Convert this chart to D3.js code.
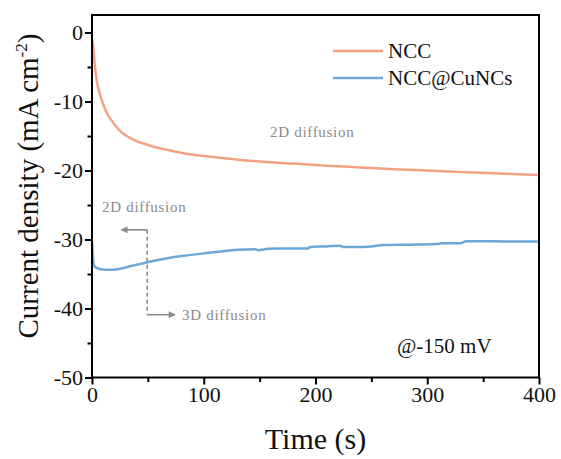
<!DOCTYPE html>
<html>
<head>
<meta charset="utf-8">
<script src="https://cdn.jsdelivr.net/npm/d3@7"></script>
<style>
  html, body { margin: 0; padding: 0; background: #fff; }
  svg text { font-family: "Liberation Serif", "Times New Roman", serif; }
</style>
</head>
<body>
<svg id="chart" width="561" height="459"></svg>
<script>
// Chronoamperometry at -150 mV: current density vs. time
const seriesNames = ["NCC", "NCC@CuNCs"];
const seriesColors = ["#f2a283", "#6ea8d6"];

const nccTime = [0, 0.5, 0.9, 1.5, 2.4, 3.5, 5.4, 7.5, 9.8, 13, 17.3, 21, 26, 33, 41, 48, 56, 70, 86, 100, 116, 135, 150, 180, 210, 240, 270, 300, 329, 360, 399];
const nccValue = [-1.0, -1.3, -1.6, -2.8, -4.5, -6.2, -7.9, -9.2, -10.3, -11.6, -12.7, -13.5, -14.4, -15.2, -15.8, -16.2, -16.6, -17.1, -17.6, -17.9, -18.2, -18.5, -18.7, -19.0, -19.3, -19.55, -19.8, -20.0, -20.2, -20.4, -20.65];

const cuTime = [0, 0.4, 0.9, 1.5, 2.4, 4, 8.3, 12, 17.3, 21, 26, 35, 47, 58, 71, 85, 101, 115, 130, 146, 148.6, 151, 157.5, 168, 193.6, 195, 210, 222, 225, 240, 250, 260.7, 285, 308, 313, 329, 335, 360, 380, 399];
const cuValue = [-30.2, -31.5, -32.8, -33.6, -33.9, -34.1, -34.3, -34.4, -34.4, -34.35, -34.2, -33.85, -33.4, -33.0, -32.6, -32.3, -32.0, -31.75, -31.5, -31.4, -31.55, -31.5, -31.35, -31.3, -31.3, -31.1, -31.0, -30.9, -31.1, -31.1, -31.0, -30.8, -30.75, -30.65, -30.55, -30.55, -30.25, -30.25, -30.3, -30.3];

const xTicks = [0, 100, 200, 300, 400];
const xMinorTicks = [50, 150, 250, 350];
const yTicks = [0, -10, -20, -30, -40, -50];
const yMinorTicks = [-5, -15, -25, -35, -45];

const serif = "Liberation Serif, Times New Roman, serif";
const plot = { left: 92, right: 539, top: 15, bottom: 377.5 };

const svg = d3.select("#chart");

const x = d3.scaleLinear().domain([0, 400]).range([plot.left, plot.right]);
const y = d3.scaleLinear().domain([-50, 2.54]).range([plot.bottom, plot.top]);

// Plain hyphen for negative tick labels
const tickFmt = d => String(d);

// Curves
const line = d3.line()
  .x(d => x(d[0]))
  .y(d => y(d[1]))
  .curve(d3.curveMonotoneX);

const seriesData = [
  d3.zip(nccTime, nccValue),
  d3.zip(cuTime, cuValue)
];

svg.append("clipPath").attr("id", "plotclip")
  .append("rect")
  .attr("x", plot.left).attr("y", plot.top)
  .attr("width", plot.right - plot.left).attr("height", plot.bottom - plot.top);

const curves = svg.append("g").attr("clip-path", "url(#plotclip)");
seriesData.forEach((d, i) => {
  curves.append("path")
    .datum(d)
    .attr("fill", "none")
    .attr("stroke", seriesColors[i])
    .attr("stroke-width", 2.5)
    .attr("stroke-linejoin", "round")
    .attr("d", line);
});

// Axes with outward major and minor ticks
const fontTick = 22;
function styleAxis(g) {
  g.attr("font-family", serif);
  g.select(".domain").remove();
  g.selectAll(".tick line").attr("stroke", "#000").attr("stroke-width", 2);
  g.selectAll(".tick text").attr("font-size", fontTick).attr("fill", "#111");
}

svg.append("g").attr("transform", `translate(0,${plot.bottom})`)
  .call(d3.axisBottom(x).tickValues(xTicks).tickSize(7).tickPadding(2).tickFormat(tickFmt))
  .call(styleAxis);
svg.append("g").attr("transform", `translate(0,${plot.bottom})`)
  .call(d3.axisBottom(x).tickValues(xMinorTicks).tickSize(4.5).tickFormat(""))
  .call(styleAxis);
svg.append("g").attr("transform", `translate(${plot.left},0)`)
  .call(d3.axisLeft(y).tickValues(yTicks).tickSize(7).tickPadding(2).tickFormat(tickFmt))
  .call(styleAxis);
svg.append("g").attr("transform", `translate(${plot.left},0)`)
  .call(d3.axisLeft(y).tickValues(yMinorTicks).tickSize(4.5).tickFormat(""))
  .call(styleAxis);

// Frame
svg.append("rect")
  .attr("x", plot.left).attr("y", plot.top)
  .attr("width", plot.right - plot.left).attr("height", plot.bottom - plot.top)
  .attr("fill", "none").attr("stroke", "#000").attr("stroke-width", 2);

// Axis titles
svg.append("text")
  .attr("x", (plot.left + plot.right) / 2).attr("y", 449)
  .attr("text-anchor", "middle").attr("font-size", 30).attr("fill", "#111")
  .attr("font-family", serif)
  .text("Time (s)");

const yTitle = svg.append("text")
  .attr("transform", "translate(38,186) rotate(-90)")
  .attr("text-anchor", "middle").attr("font-size", 29).attr("fill", "#111")
  .attr("font-family", serif);
yTitle.append("tspan").text("Current density (mA cm");
yTitle.append("tspan").attr("font-size", 17).attr("dy", -11).text("-2");
yTitle.append("tspan").attr("dy", 11).text(")");

// Legend
const legend = svg.append("g").attr("font-family", serif);
seriesNames.forEach((name, i) => {
  const ly = 51 + i * 27;
  legend.append("line")
    .attr("x1", 333).attr("x2", 383).attr("y1", ly).attr("y2", ly)
    .attr("stroke", seriesColors[i]).attr("stroke-width", 2.5);
  legend.append("text")
    .attr("x", 388).attr("y", ly + 7)
    .attr("font-size", 21).attr("fill", "#111")
    .text(name);
});

// Potential label
svg.append("text")
  .attr("x", 397).attr("y", 353)
  .attr("font-size", 21).attr("fill", "#111")
  .attr("font-family", serif)
  .text("@-150 mV");

// Diffusion annotations
const grey = "#8a8a8a";
const defs = svg.append("defs");
defs.append("marker")
  .attr("id", "arrowhead")
  .attr("viewBox", "0 0 10 10")
  .attr("refX", 9).attr("refY", 5)
  .attr("markerWidth", 9).attr("markerHeight", 7)
  .attr("markerUnits", "userSpaceOnUse")
  .attr("orient", "auto")
  .append("path").attr("d", "M0,0 L10,5 L0,10 Z").attr("fill", grey);

const annX = 49.4, annTop = -28.6, annBottom = -40.9;
svg.append("line")
  .attr("x1", x(annX)).attr("x2", x(annX)).attr("y1", y(annTop)).attr("y2", y(annBottom))
  .attr("stroke", grey).attr("stroke-width", 1.6).attr("stroke-dasharray", "4,3");
svg.append("line")
  .attr("x1", x(annX)).attr("x2", x(26.2)).attr("y1", y(annTop)).attr("y2", y(annTop))
  .attr("stroke", grey).attr("stroke-width", 1.6).attr("marker-end", "url(#arrowhead)");
svg.append("line")
  .attr("x1", x(annX)).attr("x2", x(74.3)).attr("y1", y(annBottom)).attr("y2", y(annBottom))
  .attr("stroke", grey).attr("stroke-width", 1.6).attr("marker-end", "url(#arrowhead)");

const notes = [
  { text: "2D diffusion", x: 102, y: 212 },
  { text: "3D diffusion", x: 182, y: 320 },
  { text: "2D diffusion", x: 270, y: 137 }
];
svg.selectAll("text.note").data(notes).enter().append("text")
  .attr("class", "note")
  .attr("x", d => d.x).attr("y", d => d.y)
  .attr("font-family", serif)
  .attr("font-size", 15).attr("letter-spacing", 0.7).attr("fill", grey)
  .text(d => d.text);
</script>
</body>
</html>
